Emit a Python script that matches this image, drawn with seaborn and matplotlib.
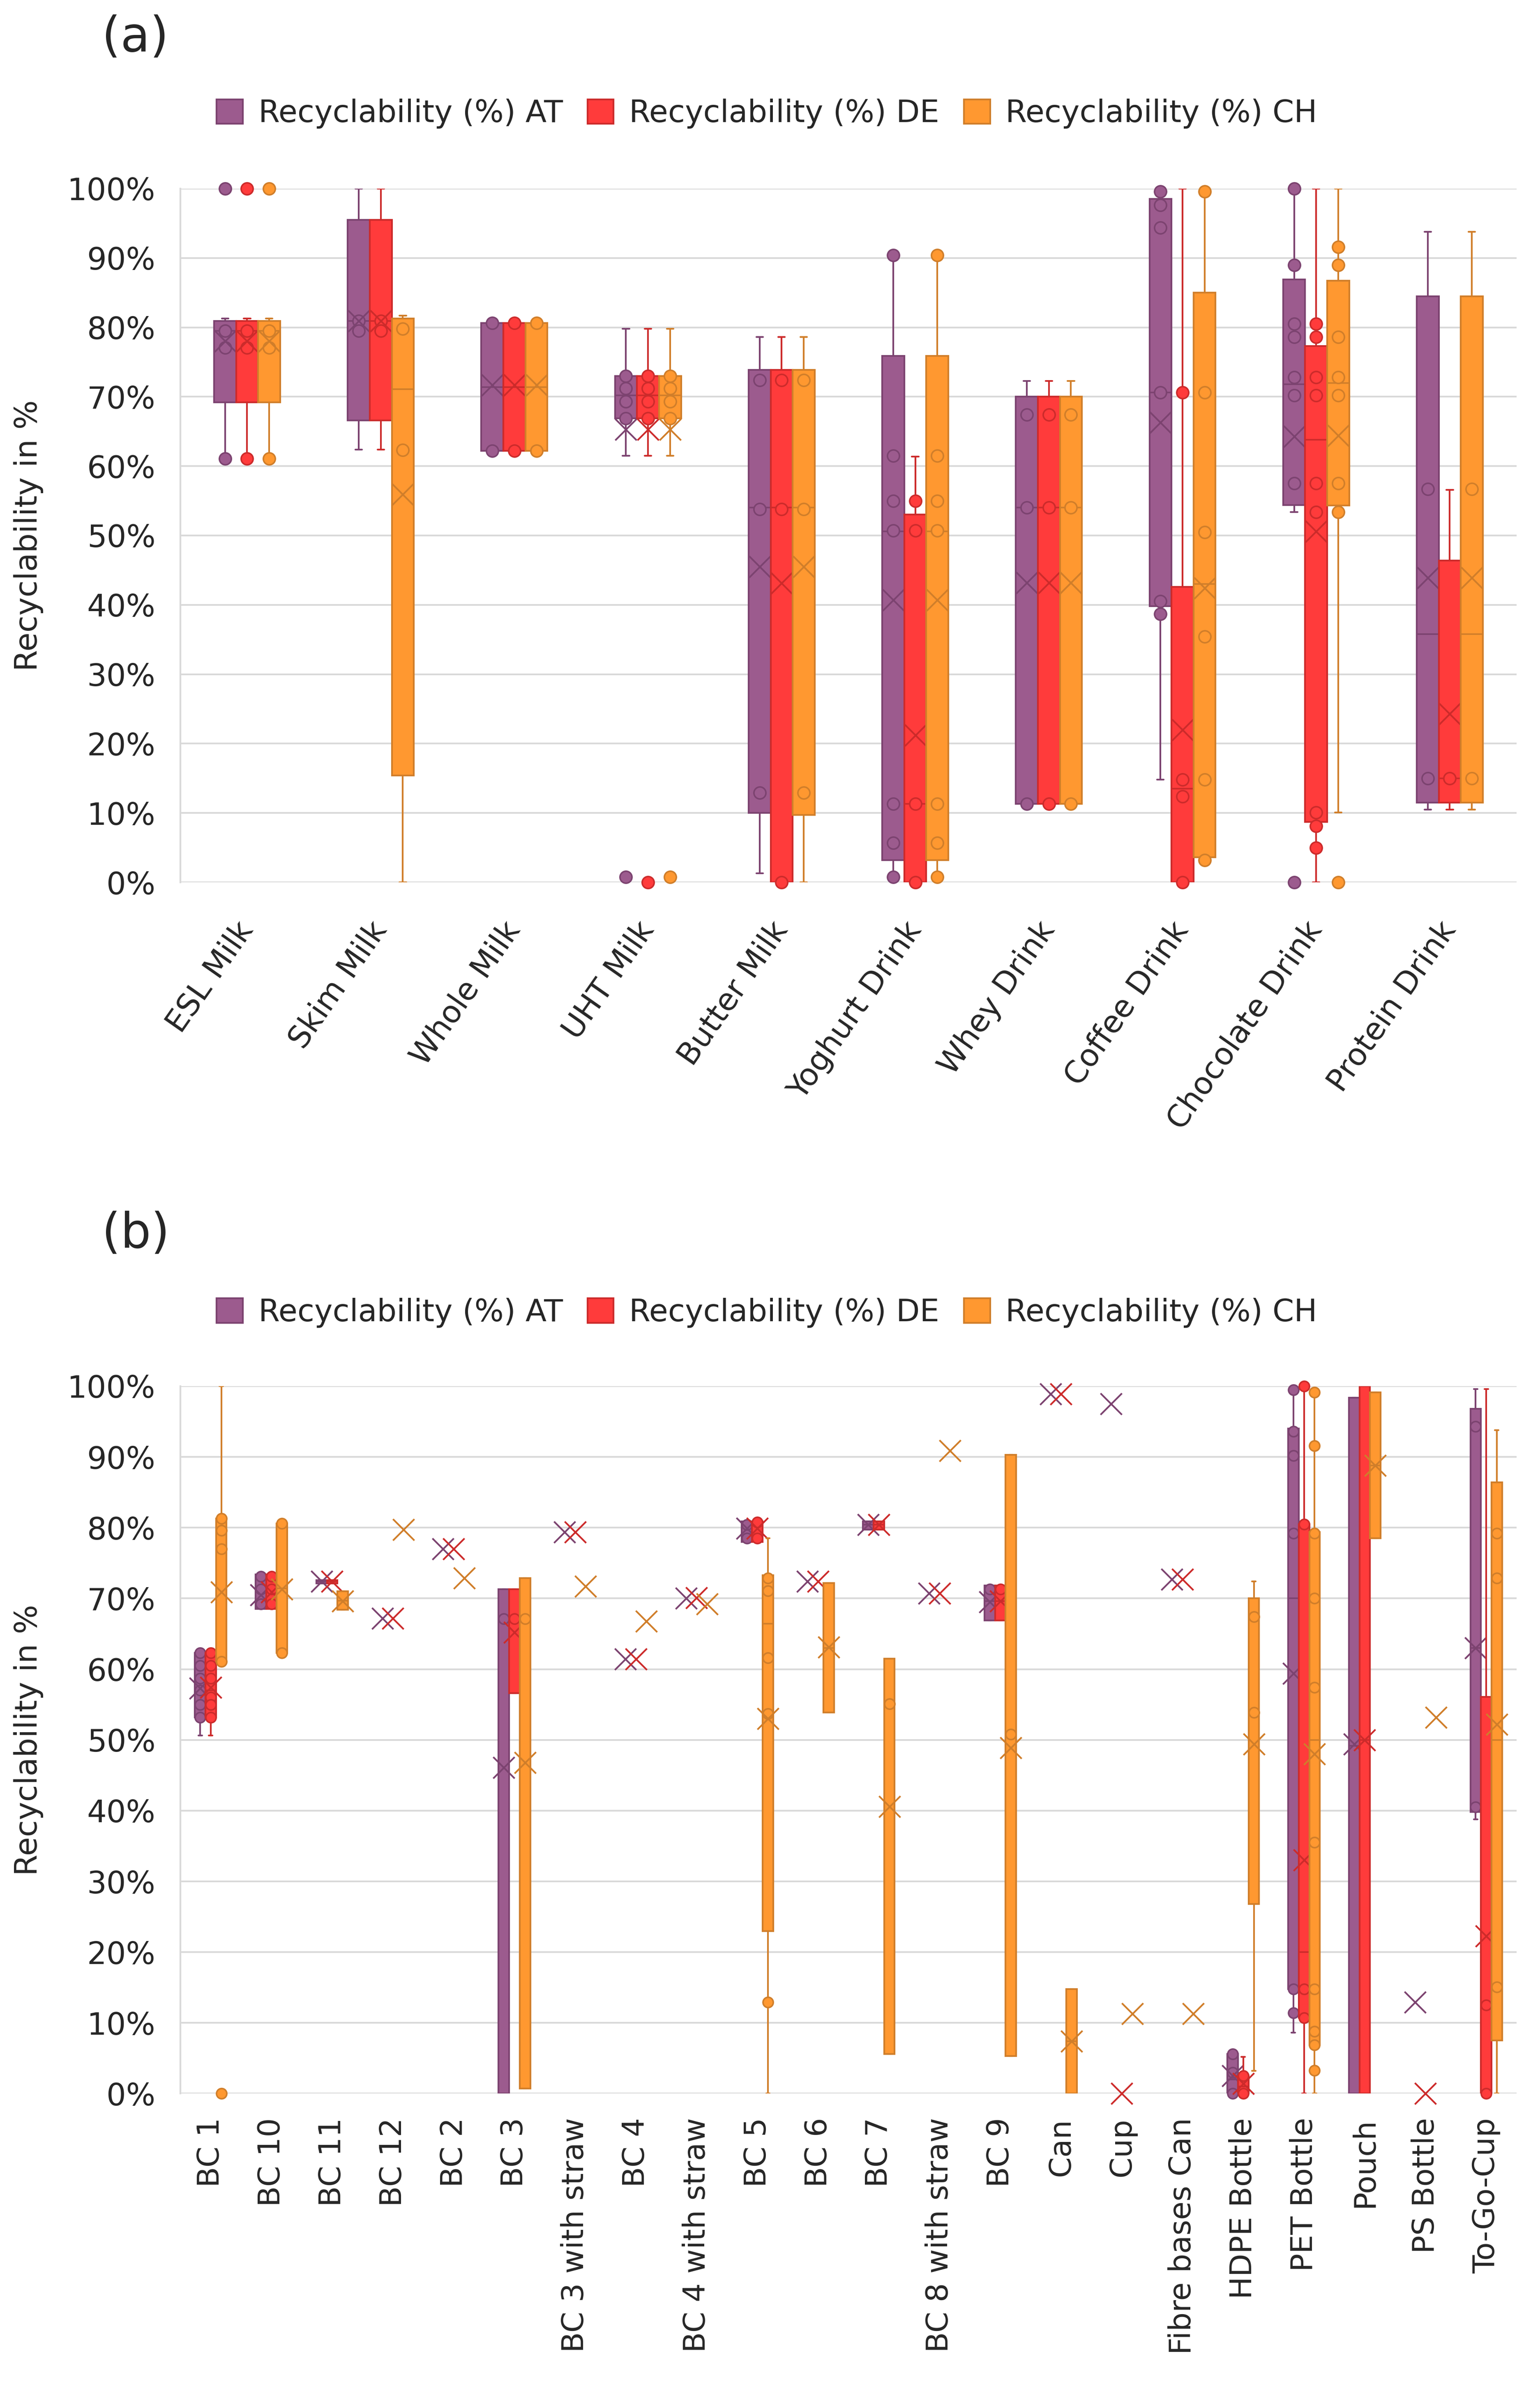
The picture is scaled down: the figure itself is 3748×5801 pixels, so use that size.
import numpy as np
import pandas as pd
import seaborn as sns
import matplotlib
matplotlib.use("Agg")
import matplotlib.pyplot as plt
from matplotlib.ticker import PercentFormatter, MultipleLocator
from matplotlib.patches import Patch

# ---------------- data: panel (a) ----------------
cats_a = ['ESL Milk', 'Skim Milk', 'Whole Milk', 'UHT Milk', 'Butter Milk',
          'Yoghurt Drink', 'Whey Drink', 'Coffee Drink', 'Chocolate Drink', 'Protein Drink']

a_at_q1 = [69.2, 66.6, 62.2, 66.9, 10.0, 3.2, 11.3, 39.8, 54.4, 11.5]
a_at_med = [79.5, 80.9, 71.4, 70.2, 54.0, 50.6, 54.0, 70.6, 71.8, 35.8]
a_at_q3 = [80.9, 95.5, 80.6, 73.0, 73.9, 75.9, 70.0, 98.5, 86.9, 84.5]
a_at_lo = [61.1, 62.4, 62.2, 61.5, 1.3, 0.8, 11.3, 14.8, 53.4, 10.5]
a_at_hi = [81.3, 100.0, 80.6, 79.8, 78.6, 90.4, 72.3, 99.6, 100.0, 93.8]
a_at_mean = [78.0, 80.9, 71.7, 65.3, 45.5, 40.7, 43.2, 66.3, 64.3, 43.9]
a_at_pts = [[100, 79.5, 77.1, 61.1], [80.9, 79.5], [80.6, 62.2], [73.0, 71.2, 69.3, 66.9, 0.75],
            [72.4, 53.8, 12.9], [90.4, 61.5, 55.0, 50.7, 11.3, 5.7, 0.8], [67.4, 54.0, 11.3],
            [99.6, 97.6, 94.4, 70.6, 40.5, 38.7], [100, 89.0, 80.5, 78.6, 72.8, 70.2, 57.5, 0],
            [56.7, 15.0]]

a_de_q1 = [69.2, 66.6, 62.2, 66.9, 0.0, 0.0, 11.3, 0.0, 8.7, 11.5]
a_de_med = [79.5, 80.9, 71.4, 70.2, 54.0, 11.3, 54.0, 13.5, 63.8, 15.0]
a_de_q3 = [80.9, 95.5, 80.6, 73.0, 73.9, 53.0, 70.0, 42.6, 77.3, 46.4]
a_de_lo = [61.1, 62.4, 62.2, 61.5, 0.0, 0.0, 11.3, 0.0, 0.0, 10.5]
a_de_hi = [81.3, 100.0, 80.6, 79.8, 78.6, 61.4, 72.3, 100.0, 100.0, 56.6]
a_de_mean = [78.0, 80.9, 71.7, 65.3, 43.1, 21.2, 43.2, 22.0, 50.6, 24.3]
a_de_pts = [[100, 79.5, 77.1, 61.1], [80.9, 79.5], [80.6, 62.2], [73.0, 71.2, 69.3, 66.9, 0.0],
            [72.4, 53.8, 0.0], [55.0, 50.7, 11.3, 0.0], [67.4, 54.0, 11.3],
            [70.6, 14.8, 12.4, 0.0], [80.5, 78.6, 72.8, 70.2, 57.5, 53.4, 10.1, 8.1, 5.0],
            [15.0]]

a_ch_q1 = [69.2, 15.4, 62.2, 66.9, 9.7, 3.2, 11.3, 3.6, 54.3, 11.5]
a_ch_med = [79.5, 71.1, 71.4, 70.2, 54.0, 50.6, 54.0, 43.0, 72.0, 35.8]
a_ch_q3 = [80.9, 81.3, 80.6, 73.0, 73.9, 75.9, 70.0, 85.0, 86.7, 84.5]
a_ch_lo = [61.1, 0.0, 62.2, 61.5, 0.0, 0.8, 11.3, 3.2, 10.1, 10.5]
a_ch_hi = [81.3, 81.7, 80.6, 79.8, 78.6, 90.4, 72.3, 99.6, 100.0, 93.8]
a_ch_mean = [78.0, 55.9, 71.7, 65.3, 45.5, 40.7, 43.2, 42.4, 64.4, 43.9]
a_ch_pts = [[100, 79.5, 77.1, 61.1], [79.8, 62.3], [80.6, 62.2], [73.0, 71.2, 69.3, 66.9, 0.75],
            [72.4, 53.8, 12.9], [90.4, 61.5, 55.0, 50.7, 11.3, 5.7, 0.8], [67.4, 54.0, 11.3],
            [99.6, 70.6, 50.5, 35.4, 14.8, 3.2], [91.6, 89.0, 78.6, 72.8, 70.2, 57.5, 53.4, 0],
            [56.7, 15.0]]

# ---------------- data: panel (b) ----------------
cats_b = ['BC 1', 'BC 10', 'BC 11', 'BC 12', 'BC 2', 'BC 3', 'BC 3 with straw', 'BC 4',
          'BC 4 with straw', 'BC 5', 'BC 6', 'BC 7', 'BC 8 with straw', 'BC 9', 'Can', 'Cup',
          'Fibre bases Can', 'HDPE Bottle', 'PET Bottle', 'Pouch', 'PS Bottle', 'To-Go-Cup']

b_at_q1 = [53.2, 68.5, 72.1, 67.2, 77.0, 0.0, 79.4, 61.4, 70.0, 78.0, 72.4, 79.7, 70.7, 66.9, 98.9, 97.5, 72.7, 0.0, 14.8, 0.0, 12.9, 39.8]
b_at_med = [57.0, 71.3, 72.4, 67.2, 77.0, 67.1, 79.4, 61.4, 70.0, 80.4, 72.4, 80.4, 70.7, 69.6, 98.9, 97.5, 72.7, 2.0, 70.0, 49.2, 12.9, 63.0]
b_at_q3 = [62.3, 73.4, 72.6, 67.2, 77.0, 71.3, 79.4, 61.4, 70.0, 80.9, 72.4, 80.9, 70.7, 71.8, 98.9, 97.5, 72.7, 5.6, 94.0, 98.4, 12.9, 96.8]
b_at_lo = [50.6, 68.5, 72.1, 67.2, 77.0, 0.0, 79.4, 61.4, 70.0, 78.0, 72.4, 79.7, 70.7, 66.9, 98.9, 97.5, 72.7, 0.0, 8.6, 0.0, 12.9, 38.8]
b_at_hi = [62.3, 73.4, 72.6, 67.2, 77.0, 71.3, 79.4, 61.4, 70.0, 80.9, 72.4, 80.9, 70.7, 71.8, 98.9, 97.5, 72.7, 5.6, 99.5, 98.4, 12.9, 99.6]
b_at_mean = [57.3, 70.5, 72.4, 67.2, 77.0, 46.1, 79.4, 61.4, 70.0, 79.9, 72.4, 80.4, 70.7, 69.5, 98.9, 97.5, 72.7, 2.5, 59.4, 49.4, 12.9, 63.0]
b_at_pts = [[62.3, 60.5, 58.7, 57.0, 55.0, 53.2], [73.1, 71.3, 69.2], [], [], [], [67.1], [], [], [],
            [80.4, 78.5], [], [], [], [71.3], [], [], [], [5.6, 3.0, 0.0],
            [99.5, 93.6, 90.2, 79.2, 14.8, 11.4], [], [], [94.3, 40.5]]

b_de_q1 = [53.2, 68.5, 72.1, 67.2, 77.0, 56.6, 79.4, 61.4, 70.1, 78.0, 72.4, 79.7, 70.7, 66.9, 98.9, 0.0, 72.7, 0.0, 10.7, 0.0, 0.0, 0.0]
b_de_med = [57.0, 71.3, 72.4, 67.2, 77.0, 67.1, 79.4, 61.4, 70.1, 80.4, 72.4, 80.4, 70.7, 69.6, 98.9, 0.0, 72.7, 1.0, 20.0, 50.0, 0.0, 12.5]
b_de_q3 = [62.3, 73.4, 72.6, 67.2, 77.0, 71.3, 79.4, 61.4, 70.1, 80.9, 72.4, 80.9, 70.7, 71.8, 98.9, 0.0, 72.7, 2.5, 80.5, 100.0, 0.0, 56.1]
b_de_lo = [50.6, 68.5, 72.1, 67.2, 77.0, 56.6, 79.4, 61.4, 70.1, 78.0, 72.4, 79.7, 70.7, 66.9, 98.9, 0.0, 72.7, 0.0, 0.0, 0.0, 0.0, 0.0]
b_de_hi = [62.3, 73.4, 72.6, 67.2, 77.0, 71.3, 79.4, 61.4, 70.1, 80.9, 72.4, 80.9, 70.7, 71.8, 98.9, 0.0, 72.7, 5.2, 100.0, 100.0, 0.0, 99.6]
b_de_mean = [57.4, 70.9, 72.4, 67.2, 77.0, 65.2, 79.4, 61.4, 70.1, 79.9, 72.4, 80.4, 70.7, 69.6, 98.9, 0.0, 72.7, 1.4, 33.0, 50.0, 0.0, 22.3]
b_de_pts = [[62.3, 60.5, 58.7, 56.0, 55.0, 53.2], [73.1, 71.3, 69.2], [], [], [], [67.1], [], [], [],
            [80.8, 78.5], [], [], [], [71.3], [], [], [], [2.5, 0.0],
            [100.0, 80.5, 14.8, 10.7], [], [], [12.5, 0.0]]

b_ch_q1 = [61.1, 62.3, 68.4, 79.7, 72.9, 0.75, 71.7, 66.8, 69.2, 23.0, 53.9, 5.6, 90.9, 5.3, 0.0, 11.3, 11.3, 26.8, 6.9, 78.5, 53.2, 7.5]
b_ch_med = [77.0, 71.4, 69.7, 79.7, 72.9, 67.1, 71.7, 66.8, 69.2, 66.4, 63.0, 55.1, 90.9, 50.8, 7.4, 11.3, 11.3, 53.9, 50.0, 88.8, 53.2, 50.0]
b_ch_q3 = [81.3, 80.6, 71.0, 79.7, 72.9, 72.9, 71.7, 66.8, 69.2, 73.3, 72.2, 61.5, 90.9, 90.3, 14.8, 11.3, 11.3, 70.0, 79.4, 99.1, 53.2, 86.4]
b_ch_lo = [61.1, 62.3, 68.4, 79.7, 72.9, 0.75, 71.7, 66.8, 69.2, 0.0, 53.9, 5.6, 90.9, 5.3, 0.0, 11.3, 11.3, 3.2, 0.0, 78.5, 53.2, 0.0]
b_ch_hi = [100.0, 80.6, 71.0, 79.7, 72.9, 72.9, 71.7, 66.8, 69.2, 78.5, 72.2, 61.5, 90.9, 90.3, 14.8, 11.3, 11.3, 72.4, 99.1, 99.1, 53.2, 93.8]
b_ch_mean = [70.9, 71.3, 69.6, 79.7, 72.9, 46.8, 71.7, 66.8, 69.2, 53.0, 63.1, 40.6, 90.9, 48.9, 7.4, 11.3, 11.3, 49.4, 48.0, 88.8, 53.2, 52.2]
b_ch_pts = [[81.3, 79.6, 77.0, 61.1, 0.0], [80.6, 62.3], [], [], [], [67.1], [], [], [],
            [72.9, 71.1, 61.6, 53.7, 12.9], [], [55.1], [], [50.8], [], [], [], [67.4, 53.9],
            [99.1, 91.6, 79.2, 70.0, 57.4, 35.5, 14.8, 8.8, 6.9, 3.3], [], [], [79.2, 72.9, 15.1]]

series_names = ['Recyclability (%) AT', 'Recyclability (%) DE', 'Recyclability (%) CH']
fill_cols = ['#9C5B8E', '#FF3B3B', '#FF9830']
edge_cols = ['#7C4370', '#CC2B2B', '#D07E2A']

# ---------------- style ----------------
sns.set_theme(style='white')
plt.rcParams['font.family'] = ['DejaVu Sans']
GRID = '#D9D9D9'

fig = plt.figure(figsize=(3748 / 300, 5801 / 300), dpi=300)
axA = fig.add_axes([0.1171, 0.62989, 0.8677, 0.29099])
axB = fig.add_axes([0.1171, 0.12179, 0.8677, 0.29676])


def draw_panel(ax, cats, stats_by_series, w, circ_s, capw):
    n = len(cats)
    for k, (q1, med, q3, lo, hi, mean, pts) in enumerate(stats_by_series):
        fc, ec = fill_cols[k], edge_cols[k]
        off = (k - 1) * w
        zb = 2 + k
        for i in range(n):
            x = i + off
            if q3[i] > q1[i] or hi[i] > q3[i] or lo[i] < q1[i]:
                st = [dict(q1=q1[i], med=med[i], q3=q3[i], whislo=lo[i], whishi=hi[i], fliers=[])]
                ax.bxp(st, positions=[x], widths=w, capwidths=capw, patch_artist=True,
                       showfliers=False, manage_ticks=False,
                       boxprops=dict(facecolor=fc, edgecolor=ec, linewidth=1.0, zorder=zb),
                       medianprops=dict(color=ec, linewidth=0.9, zorder=zb + 0.01),
                       whiskerprops=dict(color=ec, linewidth=1.0, zorder=zb - 0.01),
                       capprops=dict(color=ec, linewidth=1.0, zorder=zb - 0.01))
        px = [i + off for i in range(n) for _ in pts[i]]
        py = [v for i in range(n) for v in pts[i]]
        if px:
            sns.scatterplot(x=px, y=py, ax=ax, color=fc, edgecolor=ec, linewidth=0.9,
                            s=circ_s, zorder=zb + 0.3, clip_on=False, legend=False)
        mx = [i + off for i in range(n)]
        sns.scatterplot(x=mx, y=mean, ax=ax, marker='x', color=ec, linewidth=1.0,
                        s=156, zorder=zb + 0.5, clip_on=False, legend=False)

    ax.set_xlim(-0.5, n - 0.5)
    ax.set_ylim(0, 100)
    ax.yaxis.set_major_locator(MultipleLocator(10))
    ax.yaxis.set_major_formatter(PercentFormatter(xmax=100, decimals=0))
    ax.grid(axis='y', color=GRID, linewidth=1.0, zorder=0)
    ax.set_axisbelow(True)
    for s in ['top', 'right', 'bottom']:
        ax.spines[s].set_visible(False)
    ax.spines['left'].set_color(GRID)
    ax.spines['left'].set_linewidth(1.0)
    ax.set_xticks(range(n))
    ax.tick_params(axis='both', length=0)
    ax.tick_params(axis='y', pad=14.5, labelsize=18)
    ax.set_ylabel('Recyclability in %', fontsize=18, labelpad=14)
    ax.set_xlabel('')


draw_panel(axA, cats_a,
           [(a_at_q1, a_at_med, a_at_q3, a_at_lo, a_at_hi, a_at_mean, a_at_pts),
            (a_de_q1, a_de_med, a_de_q3, a_de_lo, a_de_hi, a_de_mean, a_de_pts),
            (a_ch_q1, a_ch_med, a_ch_q3, a_ch_lo, a_ch_hi, a_ch_mean, a_ch_pts)],
           w=0.165, circ_s=49, capw=0.05)
axA.set_xticklabels(cats_a, rotation=55, ha='right', va='center', rotation_mode='anchor', fontsize=18)
axA.tick_params(axis='x', pad=25)

draw_panel(axB, cats_b,
           [(b_at_q1, b_at_med, b_at_q3, b_at_lo, b_at_hi, b_at_mean, b_at_pts),
            (b_de_q1, b_de_med, b_de_q3, b_de_lo, b_de_hi, b_de_mean, b_de_pts),
            (b_ch_q1, b_ch_med, b_ch_q3, b_ch_lo, b_ch_hi, b_ch_mean, b_ch_pts)],
           w=0.174, circ_s=36, capw=0.06)
axB.set_xticklabels(cats_b, rotation=90, ha='center', va='top', fontsize=17.5)
axB.tick_params(axis='x', pad=14)

# legends
handles = [Patch(facecolor=fill_cols[k], edgecolor=edge_cols[k], linewidth=1.0, label=series_names[k])
           for k in range(3)]
for yc in (0.95225, 0.44932):
    fig.legend(handles=handles, loc='center', bbox_to_anchor=(0.498, yc), ncol=3, frameon=False,
               fontsize=18, handlelength=0.85, handleheight=0.85, handletextpad=0.5,
               columnspacing=0.8, borderaxespad=0)

fig.text(0.0662, 0.99397, '(a)', fontsize=28, ha='left', va='top')
fig.text(0.0662, 0.49216, '(b)', fontsize=28, ha='left', va='top')

fig.savefig('out.png', dpi=300, facecolor='white')
